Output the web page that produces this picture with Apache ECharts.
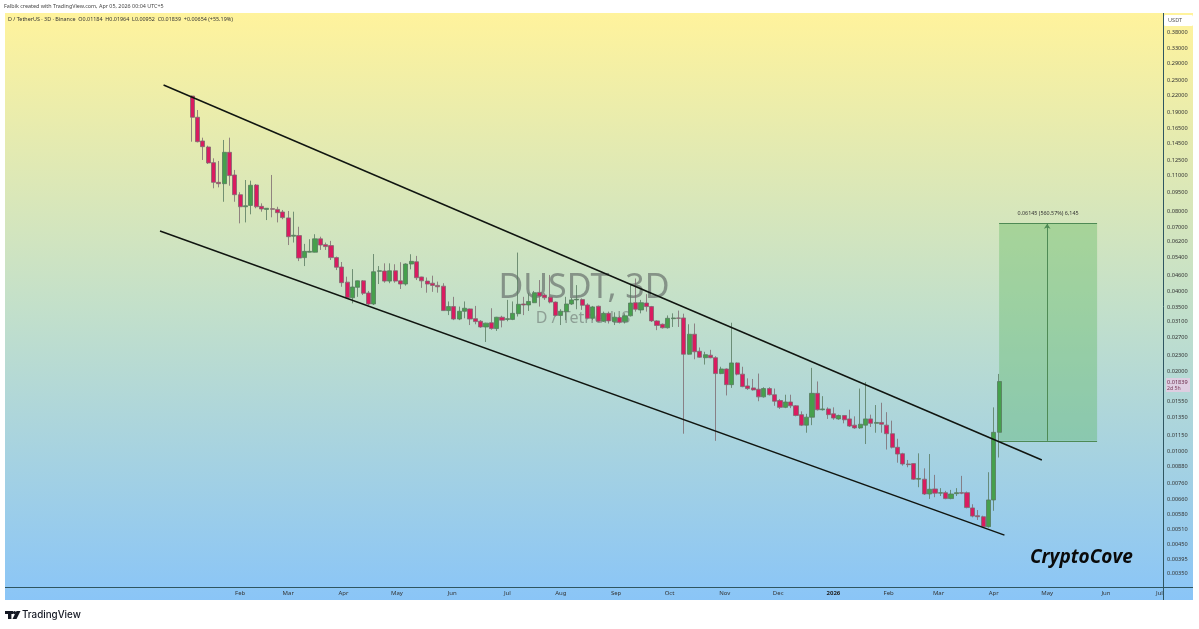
<!DOCTYPE html>
<html><head><meta charset="utf-8">
<style>html,body{margin:0;padding:0;background:#fff}#c{width:1199px;height:629px}</style>
<script src="https://cdn.jsdelivr.net/npm/echarts@6/dist/echarts.min.js"></script>
</head><body><div id="c"></div>
<script>
const dates=['2025-01-06','2025-01-09','2025-01-12','2025-01-15','2025-01-18','2025-01-21','2025-01-24','2025-01-27','2025-01-30','2025-02-02','2025-02-05','2025-02-08','2025-02-11','2025-02-14','2025-02-17','2025-02-20','2025-02-23','2025-02-26','2025-03-01','2025-03-04','2025-03-07','2025-03-10','2025-03-13','2025-03-16','2025-03-19','2025-03-22','2025-03-25','2025-03-28','2025-03-31','2025-04-03','2025-04-06','2025-04-09','2025-04-12','2025-04-15','2025-04-18','2025-04-21','2025-04-24','2025-04-27','2025-04-30','2025-05-03','2025-05-06','2025-05-09','2025-05-12','2025-05-15','2025-05-18','2025-05-21','2025-05-24','2025-05-27','2025-05-30','2025-06-02','2025-06-05','2025-06-08','2025-06-11','2025-06-14','2025-06-17','2025-06-20','2025-06-23','2025-06-26','2025-06-29','2025-07-02','2025-07-05','2025-07-08','2025-07-11','2025-07-14','2025-07-17','2025-07-20','2025-07-23','2025-07-26','2025-07-29','2025-08-01','2025-08-04','2025-08-07','2025-08-10','2025-08-13','2025-08-16','2025-08-19','2025-08-22','2025-08-25','2025-08-28','2025-08-31','2025-09-03','2025-09-06','2025-09-09','2025-09-12','2025-09-15','2025-09-18','2025-09-21','2025-09-24','2025-09-27','2025-09-30','2025-10-03','2025-10-06','2025-10-09','2025-10-12','2025-10-15','2025-10-18','2025-10-21','2025-10-24','2025-10-27','2025-10-30','2025-11-02','2025-11-05','2025-11-08','2025-11-11','2025-11-14','2025-11-17','2025-11-20','2025-11-23','2025-11-26','2025-11-29','2025-12-02','2025-12-05','2025-12-08','2025-12-11','2025-12-14','2025-12-17','2025-12-20','2025-12-23','2025-12-26','2025-12-29','2026-01-01','2026-01-04','2026-01-07','2026-01-10','2026-01-13','2026-01-16','2026-01-19','2026-01-22','2026-01-25','2026-01-28','2026-01-31','2026-02-03','2026-02-06','2026-02-09','2026-02-12','2026-02-15','2026-02-18','2026-02-21','2026-02-24','2026-02-27','2026-03-02','2026-03-05','2026-03-08','2026-03-11','2026-03-14','2026-03-17','2026-03-20','2026-03-23','2026-03-26','2026-03-29','2026-04-01','2026-04-04'];
const opens=[.2182,.1815,.1478,.1403,.1225,.1033,.1021,.1340,.1101,.0928,.0836,.0846,.1009,.0839,.0817,.0822,.0817,.0799,.0759,.0648,.0651,.0538,.0564,.0564,.0633,.0602,.0597,.0538,.0496,.0435,.0380,.0416,.0440,.0396,.0360,.0478,.0479,.0439,.0480,.0440,.0428,.0509,.0519,.0455,.0439,.0431,.0423,.0420,.0340,.0352,.0316,.0338,.0345,.0317,.0310,.0295,.0306,.0291,.0321,.0315,.0315,.0331,.0360,.0357,.0364,.0398,.0389,.0382,.0366,.0326,.0337,.0360,.0373,.0374,.0357,.0318,.0353,.0310,.0332,.0309,.0320,.0309,.0325,.0364,.0342,.0363,.0352,.0311,.0302,.0293,.0317,.0319,.0319,.0233,.0277,.0239,.0226,.0231,.0226,.0197,.0205,.0179,.0216,.0196,.0177,.0174,.0172,.0161,.0173,.0164,.0156,.0147,.0154,.0149,.0138,.0126,.0135,.0166,.0144,.0145,.0139,.0133,.0137,.0133,.0126,.0123,.0126,.0133,.0128,.0129,.0126,.0117,.0104,.00984,.00900,.00903,.00789,.00789,.00694,.00725,.00699,.00702,.00667,.00696,.00702,.00702,.00615,.00575,.00570,.00523,.00659,.01184];
const closes=[.1815,.1469,.1407,.1222,.1033,.1021,.1340,.1095,.0928,.0836,.0843,.1007,.0836,.0820,.0825,.0818,.0794,.0761,.0645,.0653,.0536,.0568,.0568,.0633,.0600,.0592,.0538,.0495,.0433,.0380,.0417,.0440,.0395,.0360,.0476,.0480,.0439,.0480,.0439,.0428,.0509,.0521,.0452,.0440,.0428,.0423,.0418,.0340,.0352,.0316,.0338,.0347,.0316,.0309,.0295,.0305,.0291,.0321,.0313,.0317,.0332,.0359,.0357,.0368,.0397,.0386,.0380,.0366,.0326,.0338,.0360,.0373,.0375,.0356,.0318,.0351,.0310,.0332,.0311,.0321,.0307,.0325,.0363,.0344,.0364,.0352,.0311,.0299,.0293,.0318,.0319,.0318,.0233,.0277,.0238,.0227,.0232,.0226,.0197,.0205,.0179,.0216,.0196,.0176,.0173,.0171,.0161,.0173,.0164,.0155,.0147,.0154,.0149,.0137,.0126,.0135,.0166,.0144,.0145,.0138,.0134,.0137,.0132,.0125,.0123,.0127,.0133,.0128,.0129,.0127,.0117,.0104,.00981,.00900,.00895,.00789,.00794,.00694,.00723,.00699,.00702,.00667,.00694,.00702,.00699,.00617,.00573,.00570,.00523,.00659,.01184,.01839];
const lows=[.1469,.1460,.1254,.1211,.0981,.0989,.0873,.1003,.0873,.0724,.0730,.0783,.0825,.0801,.0745,.0763,.0730,.0750,.0600,.0613,.0522,.0500,.0563,.0563,.0575,.0575,.0527,.0483,.0418,.0376,.0362,.0383,.0389,.0356,.0357,.0428,.0433,.0431,.0433,.0410,.0422,.0486,.0443,.0414,.0397,.0400,.0397,.0339,.0327,.0313,.0313,.0318,.0300,.0302,.0293,.0259,.0288,.0285,.0294,.0310,.0313,.0323,.0327,.0339,.0363,.0352,.0373,.0362,.0323,.0300,.0313,.0357,.0344,.0342,.0315,.0313,.0308,.0308,.0304,.0300,.0304,.0304,.0323,.0337,.0332,.0337,.0308,.0287,.0291,.0291,.0295,.0295,.0117,.0232,.0223,.0226,.0213,.0225,.0110,.0196,.0163,.0174,.0194,.0175,.0171,.0170,.0155,.0160,.0163,.0149,.0145,.0146,.0146,.0136,.0125,.0118,.0126,.0143,.0143,.0133,.0132,.0132,.0128,.0124,.0122,.0122,.0107,.0124,.0118,.0118,.0102,.0103,.00910,.00887,.00875,.00784,.00736,.00688,.00665,.00675,.00682,.00663,.00663,.00682,.00693,.00613,.00567,.00554,.00519,.00519,.00600,.00952];
const highs=[.2190,.1933,.1521,.1419,.1272,.1243,.1491,.1521,.1150,.0948,.1054,.1048,.1018,.0861,.0826,.1101,.0836,.0813,.0806,.0801,.0703,.0606,.0631,.0659,.0645,.0613,.0622,.0543,.0518,.0456,.0487,.0441,.0443,.0403,.0555,.0500,.0512,.0512,.0508,.0517,.0512,.0554,.0546,.0456,.0453,.0460,.0437,.0431,.0368,.0383,.0352,.0368,.0346,.0354,.0313,.0306,.0347,.0322,.0325,.0373,.0368,.0562,.0383,.0395,.0403,.0443,.0395,.0463,.0368,.0344,.0383,.0380,.0424,.0378,.0362,.0354,.0355,.0337,.0337,.0335,.0325,.0332,.0424,.0449,.0373,.0392,.0354,.0313,.0304,.0326,.0332,.0340,.0331,.0302,.0304,.0247,.0238,.0242,.0229,.0209,.0206,.0306,.0217,.0209,.0189,.0188,.0197,.0175,.0175,.0173,.0158,.0164,.0164,.0150,.0142,.0139,.0207,.0184,.0162,.0147,.0147,.0138,.0137,.0144,.0136,.0173,.0183,.0138,.0150,.0153,.0141,.0131,.0112,.00992,.00932,.00906,.00987,.00867,.00981,.00819,.00730,.00713,.00719,.00730,.00812,.00709,.00635,.00604,.00575,.00838,.0147,.01964];
const priceTicks=[.38,.33,.29,.25,.22,.19,.165,.145,.125,.11,.095,.08,.07,.062,.054,.046,.04,.035,.031,.027,.023,.02,.0155,.0135,.0115,.01,.0088,.0076,.0066,.0058,.0051,.0045,.00395,.0035];
const monthTicks=['2025-02-02','2025-03-01','2025-04-01','2025-05-01','2025-06-01','2025-07-02','2025-08-01','2025-09-01','2025-10-01','2025-11-01','2025-12-01','2026-01-01','2026-02-01','2026-03-01','2026-04-01','2026-05-01','2026-06-03','2026-07-03'];
const monthLabels=['Feb','Mar','Apr','May','Jun','Jul','Aug','Sep','Oct','Nov','Dec','2026','Feb','Mar','Apr','May','Jun','Jul'];
const upperChannel=[['2024-12-21',.2401],['2026-04-28',.00932]];
const lowerChannel=[['2024-12-19',.0678],['2026-04-07',.00486]];
const targetBox={from:'2026-04-04',to:'2026-05-29',arrow:'2026-05-01',top:.0722,bottom:.0110};

const ts=s=>new Date(s+'T00:00:00Z').getTime();
const FONT='"Noto Sans",sans-serif';
const candleData=dates.map((d,i)=>[ts(d),opens[i],closes[i],lows[i],highs[i]]);
const chart=echarts.init(document.getElementById('c'),null,{renderer:'canvas'});
const lineSeries=(pts)=>({type:'line',data:pts.map(p=>[ts(p[0]),p[1]]),showSymbol:false,symbol:'none',z:4,silent:true,
  lineStyle:{color:'#101510',width:1.5},animation:false});
chart.setOption({
  animation:false,backgroundColor:'#fff',
  grid:{left:5,right:36,top:13,bottom:42,containLabel:false},
  xAxis:{type:'value',scale:true,min:ts('2024-09-23'),max:ts('2026-07-05'),
    axisLine:{show:false},axisTick:{show:false},splitLine:{show:false},
    axisLabel:{customValues:monthTicks.map(ts),fontFamily:FONT,fontSize:6,color:'#333',margin:3,showMinLabel:true,showMaxLabel:true,hideOverlap:false,
      formatter:v=>{const i=monthTicks.map(ts).indexOf(+v);const s=i<0?'':monthLabels[i];return s==='2026'?'{b|2026}':s;},
      rich:{b:{fontWeight:'bold',fontSize:6,fontFamily:FONT,color:'#222'}}}},
  yAxis:{type:'log',logBase:10,position:'right',min:.00310,max:.448,
    axisLine:{show:false},axisTick:{show:false},splitLine:{show:false},
    axisLabel:{customValues:priceTicks,fontFamily:FONT,fontSize:5.6,color:'#333',margin:4,hideOverlap:false,showMinLabel:true,showMaxLabel:true,
      formatter:v=>Number(v).toFixed(5)}},
  series:[
    {type:'candlestick',data:candleData,encode:{x:0,y:[1,2,3,4]},barWidth:4.6,z:3,silent:true,
      itemStyle:{color:'#46A04C',color0:'#DA1B60',borderColor:'#587A60',borderColor0:'#7D6A70',borderColorDoji:'#33483A',borderWidth:0.8},
      markArea:{silent:true,z:1,itemStyle:{color:'rgba(76,175,80,0.33)'},data:[[{coord:[ts(targetBox.from),targetBox.top]},{coord:[ts(targetBox.to),targetBox.bottom]}]]},
      markLine:{silent:true,z:2,animation:false,symbol:'none',label:{show:false},lineStyle:{color:'#4E8A55',width:1,type:'solid'},
        data:[
          [{coord:[ts(targetBox.from),targetBox.top]},{coord:[ts(targetBox.to),targetBox.top]}],
          [{coord:[ts(targetBox.from),targetBox.bottom]},{coord:[ts(targetBox.to),targetBox.bottom]}],
          [{coord:[ts(targetBox.arrow),targetBox.bottom],symbol:'none'},{coord:[ts(targetBox.arrow),targetBox.top],symbol:'arrow',symbolSize:5}]
        ]}},
    lineSeries(upperChannel),lineSeries(lowerChannel)
  ],
  graphic:[
    {type:'rect',z:-10,shape:{x:5,y:13,width:1188,height:587},style:{fill:new echarts.graphic.LinearGradient(0,0,0,1,[{offset:0,color:'#FFF39C'},{offset:.5,color:'#C3E0CA'},{offset:1,color:'#8AC5F7'}])}},
    {type:'text',z:-5,x:584,y:288,style:{text:'DUSDT, 3D',font:'34px "Noto Sans",sans-serif',fill:'rgba(85,90,90,0.58)',align:'center',verticalAlign:'middle'}},
    {type:'text',z:-5,x:583,y:318,style:{text:'D / TetherUS',font:'16px "Noto Sans",sans-serif',fill:'rgba(85,90,90,0.48)',align:'center',verticalAlign:'middle'}},
    {type:'line',z:5,shape:{x1:1163.5,y1:13,x2:1163.5,y2:600},style:{stroke:'#2F5560',lineWidth:1}},
    {type:'line',z:5,shape:{x1:5,y1:587.5,x2:1193,y2:587.5},style:{stroke:'#2F5560',lineWidth:1}},
    {type:'rect',z:6,shape:{x:1164,y:15,width:29,height:11,r:1.5},style:{fill:'#FFFFFF'}},
    {type:'text',z:7,x:1168,y:20.5,style:{text:'USDT',font:'5.6px "Noto Sans",sans-serif',fill:'#555',verticalAlign:'middle'}},
    {type:'rect',z:6,shape:{x:1166,y:378,width:24,height:14},style:{fill:'rgba(226,204,226,0.9)'}},
    {type:'text',z:7,x:1167,y:382,style:{text:'0.01839',font:'5.6px "Noto Sans",sans-serif',fill:'#6A2A4A',verticalAlign:'middle'}},
    {type:'text',z:7,x:1167,y:388.5,style:{text:'2d 5h',font:'5.2px "Noto Sans",sans-serif',fill:'#7A3A5A',verticalAlign:'middle'}},
    {type:'text',z:7,x:4,y:6.5,style:{text:'Falbik created with TradingView.com, Apr 05, 2026 00:04 UTC+5',font:'5.4px "Noto Sans",sans-serif',fill:'#444',verticalAlign:'middle'}},
    {type:'text',z:7,x:8,y:19.5,style:{text:'D / TetherUS · 3D · Binance  O0.01184  H0.01964  L0.00952  C0.01839  +0.00654 (+55.19%)',font:'5.4px "Noto Sans",sans-serif',fill:'#333',verticalAlign:'middle'}},
    {type:'text',z:7,x:1048,y:213,style:{text:'0.06145 (560.57%) 6,145',font:'5.4px "Noto Sans",sans-serif',fill:'#333',align:'center',verticalAlign:'middle'}},
    {type:'text',z:7,x:1030,y:558,style:{text:'CryptoCove',font:'italic bold 19px "Open Sans",sans-serif',fill:'#0A0A0A',verticalAlign:'middle'}},
    {type:'rect',z:7,shape:{x:5,y:611,width:8,height:3},style:{fill:'#131722'}},
    {type:'rect',z:7,shape:{x:8,y:611,width:3.4,height:8},style:{fill:'#131722'}},
    {type:'circle',z:7,shape:{cx:14.5,cy:612.6,r:1.6},style:{fill:'#131722'}},
    {type:'polygon',z:7,shape:{points:[[16.5,611],[20.5,611],[16.5,619],[12.5,619]]},style:{fill:'#131722'}},
    {type:'text',z:7,x:22,y:615,style:{text:'TradingView',font:'500 9.8px "Inter",sans-serif',fill:'#131722',verticalAlign:'middle'}}
  ]
});
</script></body></html>
